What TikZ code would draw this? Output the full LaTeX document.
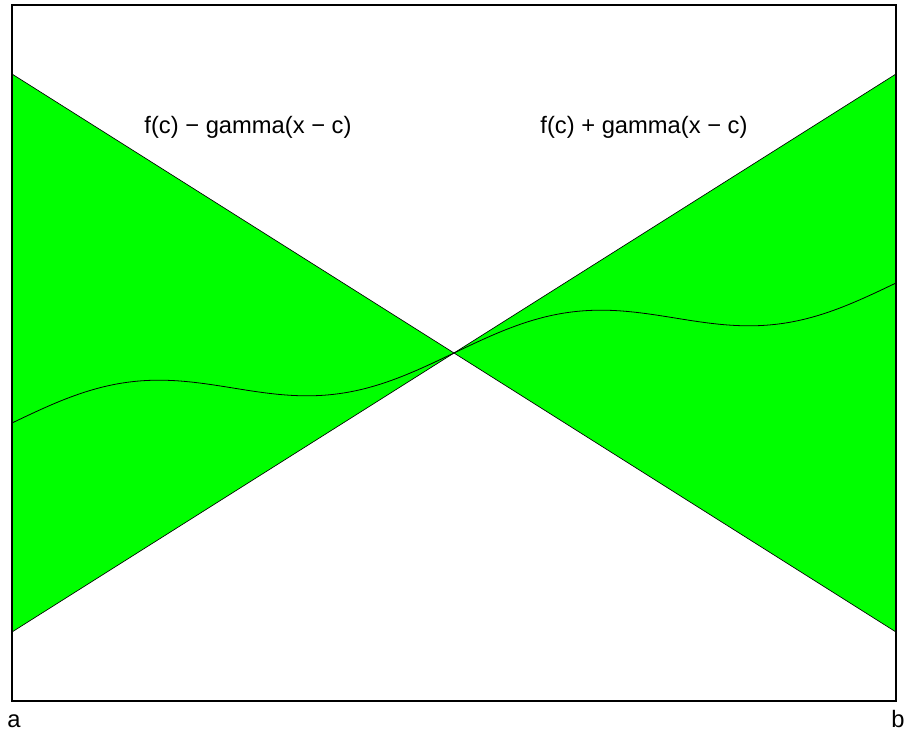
\documentclass[tikz,border=0pt]{standalone}
\usepackage{fontspec}
\setmainfont{Liberation Sans}
\usetikzlibrary{positioning}
\definecolor{conec}{HTML}{00FF00}
\tikzset{
  frame/.style={draw=black, line width=0.8pt},
  cone/.style={fill=conec},
  edge/.style={draw=black, line width=0.5pt},
  fn/.style={draw=black, line width=0.6pt},
  lbl/.style={font=\fontsize{17.8}{20}\selectfont, anchor=base},
}

\begin{document}
\begin{tikzpicture}[x=0.75pt, y=0.75pt]
  \useasboundingbox (-454,-380) rectangle (450,353);
  \coordinate (c) at (0,0);
  \coordinate (lt) at (-442,279);
  \coordinate (lb) at (-442,-279);
  \coordinate (rt) at (442,279);
  \coordinate (rb) at (442,-279);
  % the two green wedges
  \fill[cone] (lt) -- (c) -- (lb) -- cycle;
  \fill[cone] (rt) -- (c) -- (rb) -- cycle;
  \draw[edge] (lt) -- (c) -- (rb);
  \draw[edge] (lb) -- (c) -- (rt);
  % the function
  \draw[fn] plot[domain=-442:442, samples=150, smooth] (\x, {0.15837*\x + 22.5*sin(0.81448*\x)});
  \draw[frame] (-442,-348) rectangle (442,348);
  \node[lbl] (lower) at (-206,220) {f(c) − gamma(x − c)};
  \node[lbl] (upper) at (190,220) {f(c) + gamma(x − c)};
  \node[lbl] (a) at (-440,-374) {a};
  \node[lbl] (b) at (444,-374) {b};
\end{tikzpicture}
\end{document}
